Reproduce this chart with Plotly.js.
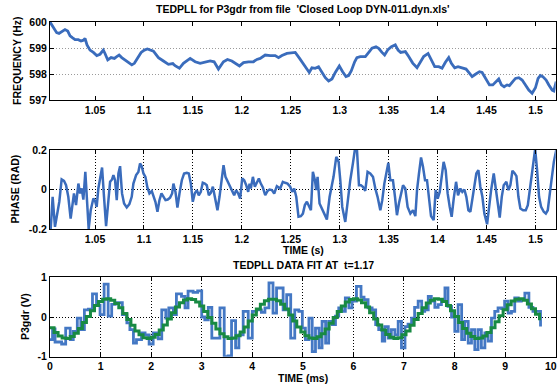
<!DOCTYPE html>
<html>
<head>
<meta charset="utf-8">
<script src="https://cdn.plot.ly/plotly-3.0.1.min.js"></script>
<style>html,body{margin:0;padding:0;background:#fff;}#chart{width:560px;height:390px;}</style>
</head>
<body>
<div id="chart"></div>
<script>
// ---- Frequency (top panel) ----
const freqTime = [1.0040,1.0074,1.0108,1.0132,1.0160,1.0193,1.0221,1.0245,1.0268,1.0296,1.0329,1.0357,1.0381,1.0398,1.0418,1.0449,1.0483,1.0518,1.0551,1.0585,1.0602,1.0630,1.0664,1.0698,1.0722,1.0746,1.0773,1.0807,1.0841,1.0876,1.0902,1.0937,1.0971,1.1004,
1.1035,1.1097,1.1148,1.1199,1.1250,1.1295,1.1318,1.1362,1.1403,1.1472,1.1523,1.1574,1.1625,1.1676,1.1717,1.1761,1.1812,1.1853,1.1898,1.1932,1.1976,1.2017,1.2068,1.2119,1.2154,1.2188,1.2239,1.2290,1.2341,1.2375,1.2410,1.2461,1.2512,1.2546,1.2590,1.2631,
1.2648,1.2689,1.2716,1.2750,1.2784,1.2818,1.2853,1.2887,1.2921,1.2955,1.2996,1.3030,1.3064,1.3091,1.3118,1.3153,1.3176,1.3210,1.3262,1.3303,1.3330,1.3371,1.3398,1.3432,1.3459,1.3493,1.3528,1.3568,1.3596,1.3623,1.3671,1.3705,1.3746,1.3790,1.3824,1.3858,1.3903,1.3937,1.3971,1.4012,1.4046,1.4080,1.4114,1.4141,1.4175,1.4209,1.4257,1.4291,1.4325,1.4353,1.4387,1.4428,1.4455,1.4489,1.4530,1.4564,1.4598,1.4625,1.4652,1.4680,1.4710,1.4734,1.4768,1.4796,1.4830,1.4864,1.4898,1.4932,1.4966,1.5000,1.5027,1.5051,1.5075,1.5109,1.5137,1.5171,1.5188,1.5212];
const freqHz = [600.00,599.78,599.59,599.56,599.63,599.71,599.65,599.47,599.40,599.32,599.32,599.27,599.30,599.37,599.12,598.92,598.83,598.71,598.76,598.92,598.79,598.54,598.63,598.60,598.67,598.73,598.63,598.54,598.45,598.35,598.41,598.60,598.83,598.92,
598.96,598.88,598.63,598.50,598.37,598.40,598.32,598.22,598.41,598.60,598.47,598.41,598.47,598.50,598.47,598.19,598.47,598.56,598.50,598.41,598.31,598.44,598.47,598.47,598.56,598.60,598.73,598.71,598.71,598.63,598.71,598.79,598.82,598.83,598.60,598.37,
598.28,598.06,598.24,598.22,598.28,598.09,597.86,597.73,597.81,598.06,598.31,598.09,597.90,597.94,598.12,598.47,598.63,598.67,598.67,598.86,598.99,599.05,598.99,598.83,598.73,598.94,599.05,599.12,598.92,598.83,598.86,598.67,598.42,598.24,598.47,598.67,598.79,598.54,598.28,598.28,598.22,598.45,598.63,598.41,598.24,598.28,598.24,598.19,598.03,597.90,597.99,598.09,598.06,597.83,597.58,597.58,597.71,597.81,597.58,597.51,597.58,597.55,597.71,597.83,597.86,597.77,597.58,597.38,597.26,597.47,597.83,597.94,597.90,597.77,597.58,597.38,597.35,597.71];

// ---- Phase (middle panel) ----
const phaseTime = [1.0047,1.0067,1.0091,1.0115,1.0135,1.0159,1.0183,1.0204,1.0227,1.0251,1.0272,1.0285,1.0306,1.0330,1.0347,1.0364,1.0381,1.0401,1.0422,1.0435,1.0456,1.0483,1.0500,1.0517,1.0534,1.0551,1.0572,1.0592,1.0613,1.0637,1.0654,1.0674,1.0688,1.0705,1.0722,1.0739,1.0756,1.0776,1.0797,1.0824,1.0851,1.0875,1.0892,1.0920,1.0943,1.0960,1.0977,1.0995,1.1015,1.1035,1.1056,1.1080,1.1097,1.1117,1.1138,1.1158,1.1179,1.1199,1.1220,1.1243,1.1267,1.1288,1.1301,1.1322,1.1342,1.1363,1.1387,1.1410,1.1438,1.1458,1.1479,1.1499,1.1519,1.1540,1.1560,1.1581,1.1601,1.1622,1.1642,1.1663,1.1683,1.1704,1.1727,1.1751,1.1772,1.1792,1.1813,1.1833,1.1854,1.1881,1.1901,1.1922,1.1942,1.1963,1.1983,1.2004,1.2024,1.2045,1.2065,1.2079,1.2092,1.2113,1.2133,1.2154,1.2174,1.2194,1.2215,1.2239,1.2263,1.2283,1.2307,1.2331,1.2358,
1.2392,1.2419,1.2443,1.2467,1.2494,1.2515,1.2535,1.2556,1.2579,1.2603,1.2624,1.2644,1.2665,1.2685,1.2706,1.2726,1.2747,1.2760,1.2774,1.2794,1.2818,1.2842,1.2869,1.2897,1.2920,1.2937,1.2965,1.2989,1.3006,1.3026,1.3057,1.3081,1.3108,1.3135,1.3156,1.3176,1.3197,1.3217,1.3237,1.3261,1.3285,1.3312,1.3340,1.3364,1.3387,1.3415,1.3435,1.3456,1.3476,1.3497,1.3517,1.3544,1.3565,1.3585,1.3606,1.3626,1.3647,1.3670,1.3694,1.3722,1.3749,1.3773,1.3790,1.3810,1.3831,1.3851,1.3872,1.3892,1.3912,1.3933,1.3960,1.3981,1.4001,1.4022,1.4042,1.4062,1.4083,1.4103,1.4124,1.4144,1.4165,1.4189,1.4209,1.4233,1.4253,1.4274,1.4294,1.4315,1.4335,1.4356,1.4376,1.4396,1.4417,1.4437,1.4458,1.4478,1.4506,1.4526,1.4547,1.4574,1.4594,1.4615,1.4635,1.4656,1.4676,1.4703,1.4724,1.4744,1.4765,1.4785,1.4806,1.4826,1.4846,1.4874,1.4901,1.4922,1.4942,1.4962,1.4983,1.4997,1.5017,1.5037,1.5058,1.5085,1.5106,1.5126,1.5147,1.5167,1.5188,1.5215];
const phaseRad = [-0.200,-0.037,-0.189,-0.122,-0.062,0.051,0.044,0.022,-0.037,-0.147,-0.062,-0.020,-0.079,0.030,-0.020,0.005,-0.051,0.089,-0.088,-0.200,-0.105,-0.046,-0.057,-0.088,0.005,0.056,0.111,-0.037,-0.186,-0.054,0.039,0.051,0.073,0.047,-0.054,0.081,0.118,-0.020,-0.071,-0.091,-0.074,-0.037,0.030,0.073,0.089,0.132,0.118,0.081,0.064,0.010,-0.020,-0.008,-0.029,-0.062,-0.113,-0.054,-0.020,-0.037,-0.054,-0.051,-0.041,-0.020,0.030,-0.012,-0.091,-0.020,0.047,0.081,0.084,0.081,0.030,-0.062,-0.020,-0.003,-0.029,-0.012,0.034,0.030,0.022,-0.029,-0.017,0.014,-0.054,-0.105,-0.037,0.047,0.123,0.064,0.039,0.014,-0.007,-0.029,-0.003,-0.020,-0.046,0.056,0.047,0.022,-0.012,0.030,0.005,0.064,0.014,0.034,0.056,0.030,0.010,-0.029,-0.007,0.000,-0.003,-0.020,0.017,
0.005,0.039,0.034,0.030,0.014,-0.012,0.005,-0.037,-0.138,-0.135,-0.122,-0.079,-0.062,-0.088,-0.105,0.089,0.047,-0.003,0.064,-0.071,-0.101,-0.122,-0.152,-0.037,0.022,0.064,0.165,0.140,0.047,-0.088,-0.164,-0.062,0.047,0.132,0.205,0.205,0.022,0.022,0.014,-0.007,0.089,0.081,0.064,0.005,-0.037,-0.105,-0.054,0.030,0.081,0.135,0.047,0.047,-0.037,-0.130,-0.068,-0.020,0.022,0.005,-0.088,-0.122,-0.105,-0.135,-0.003,0.081,0.162,0.115,0.047,0.047,-0.037,-0.135,-0.155,-0.003,-0.046,-0.012,0.064,0.140,0.098,-0.020,-0.088,-0.138,-0.046,0.039,-0.029,0.005,-0.012,0.000,-0.037,-0.105,-0.113,-0.037,0.022,0.081,0.098,0.014,-0.037,-0.122,-0.176,-0.079,-0.003,0.081,0.005,-0.088,-0.142,-0.037,0.022,0.039,-0.003,0.022,0.095,0.084,0.068,-0.037,-0.096,-0.105,-0.105,-0.079,-0.003,0.098,0.174,0.205,0.098,-0.037,-0.088,-0.113,-0.122,-0.105,-0.020,0.064,0.140,0.205];

// ---- Data fit (bottom panel) ----
const sampleTime = [0.00,0.05,0.10,0.23,0.31,0.40,0.46,0.54,0.61,0.68,0.76,0.84,0.92,0.99,1.07,1.15,1.22,1.29,1.43,1.52,1.58,1.65,1.71,1.81,1.88,1.96,2.04,2.14,2.21,2.29,2.35,2.44,2.50,2.60,2.67,2.73,2.83,2.92,3.00,3.06,3.13,3.20,
3.36,3.445,3.52,3.59,3.67,3.735,3.82,3.92,4.00,4.085,4.18,4.25,4.33,4.41,4.48,4.61,4.68,4.76,4.84,4.92,4.99,5.05,5.12,5.185,5.25,5.32,5.38,5.45,5.51,5.58,5.645,5.71,5.78,5.84,5.91,5.975,6.06,6.15,6.21,6.29,6.37,6.44,6.50,6.57,
6.62,6.69,6.75,6.82,6.885,6.95,7.02,7.08,7.15,7.21,7.28,7.35,7.41,7.48,7.54,7.61,7.675,7.74,7.81,7.87,7.94,8.005,8.07,8.14,8.20,8.27,8.335,8.40,8.465,8.53,8.60,8.665,8.73,8.795,8.86,8.93,8.99,9.06,9.125,9.19,9.26,9.32,9.39,9.47,9.55,9.70];
const sampleVolt = [-0.57,-0.30,-0.63,-0.68,-0.28,-0.57,-0.36,-0.03,-0.32,0.18,0.20,0.58,0.30,0.06,0.83,0.02,0.32,0.36,0.06,-0.15,-0.32,-0.66,-0.57,-0.40,-0.45,-0.68,-0.40,-0.55,0.18,-0.03,0.23,0.06,0.58,0.52,0.23,0.65,0.62,0.66,0.00,-0.07,0.24,-0.53,
0.23,-1.00,-0.98,-0.09,-0.78,-0.45,0.14,-0.53,0.14,0.18,0.12,0.23,0.86,0.10,0.73,0.18,0.56,-0.53,0.18,0.14,-0.28,-0.57,-0.03,-0.87,-0.28,-0.78,-0.11,-0.66,-0.11,-0.19,0.02,0.23,0.14,0.48,0.23,0.40,0.77,0.50,0.44,0.23,0.18,-0.19,-0.32,-0.61,
-0.24,-0.53,-0.32,-0.45,-0.11,-0.78,-0.24,-0.18,-0.03,0.24,0.40,0.14,0.18,0.52,0.40,0.24,0.31,0.40,0.73,0.27,0.00,-0.36,0.31,-0.57,-0.11,-0.66,-0.32,-0.82,-0.32,-0.78,-0.40,-0.61,-0.03,0.14,0.23,0.21,0.40,0.10,0.14,0.48,0.40,0.44,0.60,0.24,0.14,-0.24];
const fitStep = 0.08; // ms between fitted samples
const fitVolt = [-0.27,-0.39,-0.48,-0.53,-0.54,-0.49,-0.41,-0.29,-0.14,0.01,0.16,0.29,0.39,0.45,0.46,0.42,0.34,0.23,0.09,-0.06,-0.21,-0.35,-0.45,-0.52,-0.54,-0.51,-0.44,-0.33,-0.20,-0.05,0.11,0.25,0.36,0.43,0.46,0.44,0.38,0.28,0.14,-0.01,-0.16,-0.30,-0.42,-0.50,-0.54,-0.53,-0.47,-0.38,-0.25,-0.10,0.05,0.20,0.32,0.41,0.45,0.45,0.41,0.32,0.20,0.05,-0.10,-0.25,-0.38,-0.47,-0.53,-0.54,-0.50,-0.42,-0.30,-0.16,-0.01,0.14,0.28,0.38,0.44,0.46,0.43,0.36,0.25,0.11,-0.05,-0.20,-0.33,-0.44,-0.51,-0.54,-0.52,-0.45,-0.35,-0.21,-0.06,0.09,0.23,0.35,0.42,0.46,0.45,0.39,0.29,0.16,0.01,-0.14,-0.29,-0.41,-0.49,-0.54,-0.53,-0.48,-0.39,-0.27,-0.12,0.03,0.18,0.31,0.40,0.45,0.46,0.42,0.33,0.21,0.07,-0.08];
const fitTime = fitVolt.map((v, i) => +(i * fitStep).toFixed(3));

// ---- Tick labels ----
const timeTickVals = [1.05,1.1,1.15,1.2,1.25,1.3,1.35,1.4,1.45,1.5];
const timeTickText = ['1.05','1.1','1.15','1.2','1.25','1.3','1.35','1.4','1.45','1.5'];
const freqTickVals = [597,598,599,600];
const freqTickText = ['597','598','599','600'];
const phaseTickVals = [-0.2,0,0.2];
const phaseTickText = ['-0.2','0','0.2'];
const msTickVals = [0,1,2,3,4,5,6,7,8,9,10];
const msTickText = ['0','1','2','3','4','5','6','7','8','9','10'];
const voltTickVals = [-1,0,1];
const voltTickText = ['-1','0','1'];

const W = 560, H = 390;
const FONT = 'Liberation Sans, Arial, Helvetica, sans-serif';
const BLUE = '#3a6cbc';
const GREEN = '#188a43';
const xDom = [50 / W, 555.7 / W];
const py = (top, bottom) => [1 - bottom / H, 1 - top / H];

const tickFont = {family: FONT, size: 10.5, color: '#000', weight: 'bold'};
function axisBase(extra) {
  return Object.assign({
    showline: true, linecolor: '#000', linewidth: 1, mirror: 'ticks',
    ticks: 'inside', ticklen: 4, tickwidth: 1, tickcolor: '#000',
    tickfont: tickFont, zeroline: false, fixedrange: true,
    griddash: '1px,2px', gridwidth: 1
  }, extra);
}

// The last ms label sits on the page edge; it is drawn as an annotation pulled slightly inward.
const lastMs = msTickVals.length - 1;
const msTickTextAxis = msTickText.map((s, i) => (i === lastMs ? '' : s));

const traces = [
  {x: freqTime, y: freqHz, xaxis: 'x', yaxis: 'y', mode: 'lines', line: {color: BLUE, width: 2.8}, hoverinfo: 'skip'},
  {x: phaseTime, y: phaseRad, xaxis: 'x2', yaxis: 'y2', mode: 'lines', line: {color: BLUE, width: 2.5}, hoverinfo: 'skip'},
  {x: sampleTime, y: sampleVolt, xaxis: 'x3', yaxis: 'y3', mode: 'lines', line: {color: '#4478c4', width: 2.8, shape: 'hv'}, hoverinfo: 'skip'},
  {x: fitTime, y: fitVolt, xaxis: 'x3', yaxis: 'y3', mode: 'lines', line: {color: GREEN, width: 3, shape: 'hv'}, hoverinfo: 'skip'}
];

const ann = (text, x, y, angle, size) => ({
  text: '<b>' + text + '</b>', x: x / W, y: 1 - y / H, xref: 'paper', yref: 'paper',
  xanchor: 'center', yanchor: 'middle', showarrow: false, textangle: angle || 0,
  font: {family: FONT, size: size || 10.5, color: '#000'}
});

const layout = {
  width: W, height: H, margin: {l: 0, r: 0, t: 0, b: 0},
  paper_bgcolor: '#fff', plot_bgcolor: '#fff', showlegend: false,
  xaxis: axisBase({domain: xDom, anchor: 'y', range: [1.004, 1.5207], tickvals: timeTickVals, ticktext: timeTickText, showgrid: false}),
  yaxis: axisBase({domain: py(22, 100), anchor: 'x', range: [597, 600], tickvals: freqTickVals, ticktext: freqTickText, showgrid: true, gridcolor: '#9a9a9a'}),
  xaxis2: axisBase({domain: xDom, anchor: 'y2', range: [1.004, 1.5207], tickvals: timeTickVals, ticktext: timeTickText, showgrid: true, gridcolor: '#000'}),
  yaxis2: axisBase({domain: py(150, 229), anchor: 'x2', range: [-0.2, 0.2], tickvals: phaseTickVals, ticktext: phaseTickText, showgrid: true, gridcolor: '#000'}),
  xaxis3: axisBase({domain: xDom, anchor: 'y3', range: [0, 10], tickvals: msTickVals, ticktext: msTickTextAxis, showgrid: true, gridcolor: '#000'}),
  yaxis3: axisBase({domain: py(277.3, 356.7), anchor: 'x3', range: [-1, 1], tickvals: voltTickVals, ticktext: voltTickText, showgrid: true, gridcolor: '#000'}),
  annotations: [
    ann('TEDPLL for P3gdr from file\u00a0\u00a0\'Closed Loop DYN-011.dyn.xls\'', 303, 9),
    ann('FREQUENCY (Hz)', 17, 61, -90),
    ann('PHASE (RAD)', 14, 189.5, -90),
    ann('TIME (s)', 303, 250),
    ann('TEDPLL DATA FIT AT\u00a0\u00a0t=1.17', 303, 265),
    ann('P3gdr (V)', 25, 317, -90),
    ann('TIME (ms)', 303, 378),
    {text: '<b>' + msTickText[lastMs] + '</b>', x: msTickVals[lastMs], xref: 'x3', y: 1 - 366 / H, yref: 'paper',
     xanchor: 'right', yanchor: 'middle', xshift: 3, showarrow: false,
     font: {family: FONT, size: 10.5, color: '#000'}}
  ]
};

Plotly.newPlot('chart', traces, layout, {displayModeBar: false, staticPlot: true});
</script>
</body>
</html>
